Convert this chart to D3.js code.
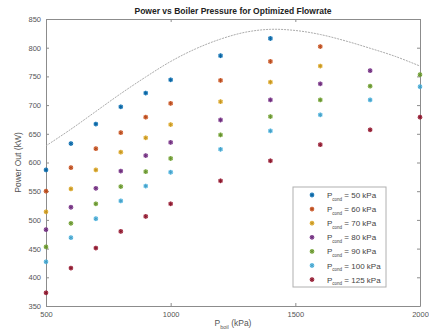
<!DOCTYPE html>
<html>
<head>
<meta charset="utf-8">
<script src="https://cdn.jsdelivr.net/npm/d3@7"></script>
<style>
  body { margin: 0; background: #fff; }
  svg { display: block; font-family: "Liberation Sans", Arial, sans-serif; }
</style>
</head>
<body>
<div id="chart"></div>
<script>
// boiler pressures (kPa)
var pBoil = [500, 600, 700, 800, 900, 1000, 1200, 1400, 1600, 1800, 2000];

// power out (kW) for each condenser pressure
var p50 = [587, 633, 667, 697, 721, 744, 786, 816];
var p60 = [550, 591, 624, 652, 679, 703, 743, 776, 802];
var p70 = [514, 554, 587, 618, 643, 666, 706, 740, 768];
var p80 = [483, 522, 555, 585, 612, 635, 674, 709, 737, 760];
var p90 = [453, 494, 528, 558, 584, 607, 648, 680, 709, 733, 753];
var p100 = [427, 469, 502, 533, 559, 583, 623, 655, 683, 709, 732];
var p125 = [373, 416, 451, 480, 506, 528, 568, 603, 631, 657, 679];

var condLabels = ['50', '60', '70', '80', '90', '100', '125'];
var colors = ['#0072BD', '#D95319', '#EDB120', '#7E2F8E', '#77AC30', '#4DBEEE', '#A2142F'];

// envelope curve
var curveX = [500, 600, 700, 800, 900, 1000, 1100, 1200, 1300, 1400, 1500, 1600, 1700, 1800, 1900, 2000];
var curveY = [629, 658, 689, 720, 749, 776, 798, 815, 827, 832, 830, 823, 812, 799, 785, 768];

var xTicks = [500, 1000, 1500, 2000];
var yTicks = [350, 400, 450, 500, 550, 600, 650, 700, 750, 800, 850];

var width = 429, height = 335;
var margin = {top: 19, right: 9, bottom: 29, left: 46};

var svg = d3.select('#chart').append('svg')
    .attr('width', width)
    .attr('height', height);

var x = d3.scaleLinear().domain([500, 2000]).range([margin.left, width - margin.right]);
var y = d3.scaleLinear().domain([350, 850]).range([height - margin.bottom, margin.top]);

var boxColor = '#8c8c8c';
var textColor = '#555';
var fmt = d3.format('d');

// axes with inward ticks, mirrored on top and right
var gx = svg.append('g')
    .attr('transform', 'translate(0,' + y(350) + ')')
    .call(d3.axisBottom(x).tickValues(xTicks).tickFormat(fmt).tickSizeInner(-3).tickSizeOuter(0).tickPadding(6));
var gxTop = svg.append('g')
    .attr('transform', 'translate(0,' + y(850) + ')')
    .call(d3.axisTop(x).tickValues(xTicks).tickSizeInner(-3).tickSizeOuter(0).tickFormat(''));
var gy = svg.append('g')
    .attr('transform', 'translate(' + x(500) + ',0)')
    .call(d3.axisLeft(y).tickValues(yTicks).tickFormat(fmt).tickSizeInner(-3).tickSizeOuter(0).tickPadding(5));
var gyRight = svg.append('g')
    .attr('transform', 'translate(' + x(2000) + ',0)')
    .call(d3.axisRight(y).tickValues(yTicks).tickSizeInner(-3).tickSizeOuter(0).tickFormat(''));

[gx, gxTop, gy, gyRight].forEach(function(g) {
    g.select('.domain').attr('stroke', boxColor);
    g.selectAll('.tick line').attr('stroke', boxColor);
    g.selectAll('.tick text')
        .attr('fill', textColor)
        .style('font-size', '7.5px')
        .style('font-family', '"Liberation Sans", Arial, sans-serif');
});

// envelope line
var line = d3.line()
    .x(function(d) { return x(d[0]); })
    .y(function(d) { return y(d[1]); })
    .curve(d3.curveCatmullRom);

svg.append('path')
    .datum(d3.zip(curveX, curveY))
    .attr('d', line)
    .attr('fill', 'none')
    .attr('stroke', '#ababab')
    .attr('stroke-width', 1)
    .attr('stroke-dasharray', '2,1');

// scatter markers
var series = [p50, p60, p70, p80, p90, p100, p125];
var marker = function(g, color) {
    g.append('circle')
        .attr('r', 2.4)
        .attr('fill', color)
        .attr('opacity', 0.7);
    g.append('path')
        .attr('d', d3.symbol().type(d3.symbolAsterisk).size(14)())
        .attr('fill', 'none')
        .attr('stroke', d3.color(color).darker(0.6))
        .attr('stroke-width', 0.8);
};

series.forEach(function(vals, i) {
    vals.forEach(function(v, j) {
        var g = svg.append('g')
            .attr('transform', 'translate(' + x(pBoil[j]) + ',' + y(v) + ')');
        marker(g, colors[i]);
    });
});

// title
svg.append('text')
    .attr('x', x(1250))
    .attr('y', 14)
    .attr('text-anchor', 'middle')
    .style('font-size', '8.5px')
    .style('font-weight', 'bold')
    .attr('fill', '#222')
    .text('Power vs Boiler Pressure for Optimized Flowrate');

// axis labels
svg.append('text')
    .attr('transform', 'translate(21,' + y(600) + ') rotate(-90)')
    .attr('text-anchor', 'middle')
    .style('font-size', '8.5px')
    .attr('fill', textColor)
    .text('Power Out (kW)');

var xl = svg.append('text')
    .attr('x', x(1250))
    .attr('y', 326)
    .attr('text-anchor', 'middle')
    .style('font-size', '8.5px')
    .attr('fill', textColor);
xl.append('tspan').text('P');
xl.append('tspan').attr('dy', 2.5).style('font-size', '5.5px').text('boil');
xl.append('tspan').attr('dy', -2.5).text(' (kPa)');

// legend
var legend = svg.append('g').attr('transform', 'translate(293,187)');
legend.append('rect')
    .attr('width', 93)
    .attr('height', 100)
    .attr('fill', '#fff')
    .attr('stroke', '#b0b0b0')
    .attr('stroke-width', 1);

condLabels.forEach(function(lbl, i) {
    var row = legend.append('g').attr('transform', 'translate(0,' + (8 + i * 14.1) + ')');
    marker(row.append('g').attr('transform', 'translate(19,0)'), colors[i]);
    var t = row.append('text')
        .attr('x', 34)
        .attr('y', 3)
        .style('font-size', '8px')
        .attr('fill', '#444');
    t.append('tspan').text('P');
    t.append('tspan').attr('dy', 2.5).style('font-size', '4.5px').text('cond');
    t.append('tspan').attr('dy', -2.5).text(' = ' + lbl + ' kPa');
});
</script>
</body>
</html>
